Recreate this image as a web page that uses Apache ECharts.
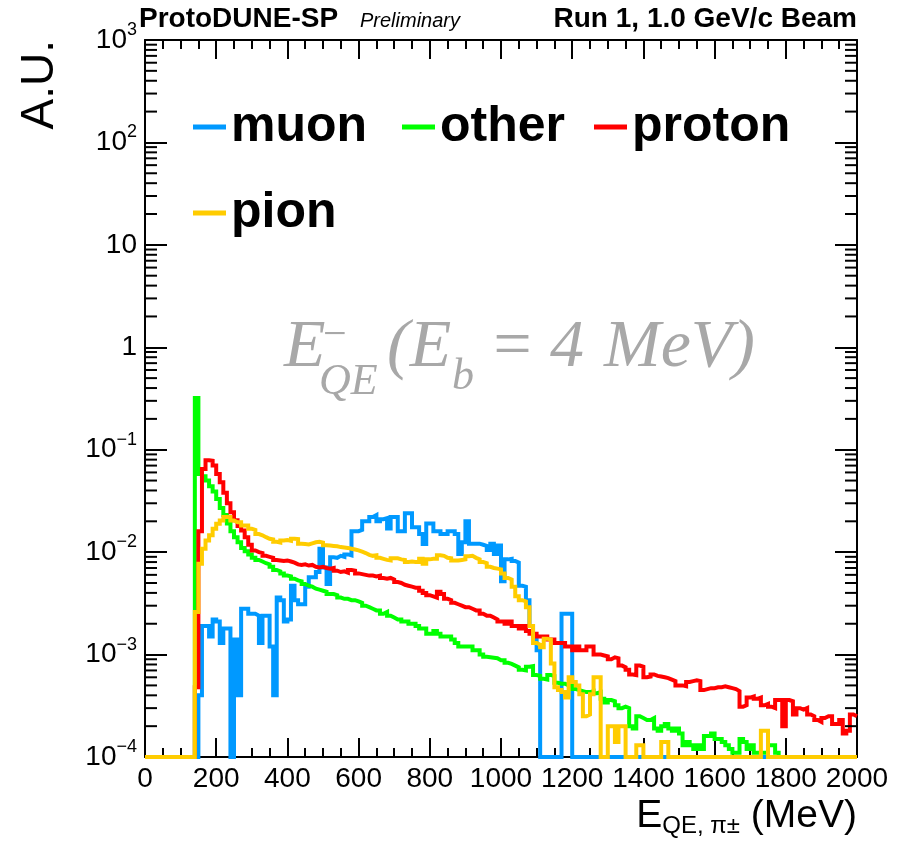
<!DOCTYPE html>
<html>
<head>
<meta charset="utf-8">
<title>ProtoDUNE-SP E_QE</title>
<script src="https://cdn.jsdelivr.net/npm/echarts@6.0.0/dist/echarts.min.js"></script>
<style>
  html, body { margin: 0; padding: 0; background: #fff; }
  #chart { width: 901px; height: 841px; }
</style>
</head>
<body>
<div id="chart"></div>
<script>
/* ---- data: 10 MeV bins from 0 to 2000 MeV ---- */
const BIN_W = 10;
const X_TICKS = [0, 200, 400, 600, 800, 1000, 1200, 1400, 1600, 1800, 2000];
const Y_TICKS = [1e-4, 1e-3, 1e-2, 1e-1, 1, 10, 1e2, 1e3];
const SERIES_NAMES = ['muon', 'other', 'proton', 'pion'];

const muon = [
  0, 0, 0, 0, 0, 0, 0, 0, 0, 0,
  0, 0, 0, 0, 0, 0.0004, 0.0019, 0.0019, 0.0015, 0.0022,
  0.0021, 0.0013, 0.0018, 0.0018, 0, 0.0014, 0.0004, 0.0028, 0.0028, 0.0025,
  0.0025, 0.0024, 0.0013, 0.0024, 0.0024, 0.0012, 0.0004, 0.0036, 0.0034, 0.0021,
  0.0022, 0.0047, 0.0034, 0.0031, 0.0031, 0.0046, 0.0057, 0.0057, 0.0064, 0.0108,
  0.0071, 0.0049, 0.0089, 0.0088, 0.0092, 0.0090, 0.0095, 0.0093, 0.016, 0.016,
  0.0165, 0.020, 0.020, 0.022, 0.023, 0.020, 0.021, 0.0215, 0.017, 0.022,
  0.022, 0.016, 0.016, 0.024, 0.024, 0.0175, 0.0175, 0.015, 0.012, 0.019,
  0.019, 0.016, 0.016, 0.015, 0.015, 0.016, 0.016, 0.015, 0.0096, 0.0125,
  0.020, 0.0121, 0.0121, 0.0121, 0.0118, 0.0115, 0.0105, 0.0121, 0.0096, 0.0116,
  0.0052, 0.0085, 0.0086, 0.0082, 0.0079, 0.0047, 0.0046, 0.0034, 0.0019, 0.0015,
  0.0011, 0, 0, 0, 0, 0, 0, 0.0025, 0.0025, 0.0025,
  0, 0, 0, 0, 0, 0, 0, 0, 0, 0,
  0, 0, 0, 0, 0, 0, 0, 0, 0, 0,
  0, 0, 0, 0, 0, 0, 0, 0, 0, 0,
  0, 0, 0, 0, 0, 0, 0, 0, 0, 0,
  0, 0, 0, 0, 0, 0, 0, 0, 0, 0,
  0, 0, 0, 0, 0, 0, 0, 0, 0, 0,
  0, 0, 0, 0, 0, 0, 0, 0, 0, 0,
  0, 0, 0, 0, 0, 0, 0, 0, 0, 0
];

const other = [
  0, 0, 0, 0, 0, 0, 0, 0, 0, 0,
  0, 0, 0, 0, 0.32, 0.058, 0.055, 0.050, 0.044, 0.039,
  0.033, 0.027, 0.023, 0.019, 0.016, 0.014, 0.0125, 0.011, 0.0102, 0.0095,
  0.0088, 0.0084, 0.0081, 0.0078, 0.0076, 0.0072, 0.0067, 0.0065, 0.0062, 0.0059,
  0.0058, 0.0055, 0.0053, 0.0052, 0.0049, 0.0047, 0.0046, 0.0044, 0.0043, 0.0042,
  0.0041, 0.0039, 0.0039, 0.0038, 0.0036, 0.0035, 0.0035, 0.0034, 0.0034, 0.0033,
  0.0032, 0.0030, 0.0029, 0.0028, 0.0027, 0.0027, 0.0025, 0.0026, 0.0024, 0.0023,
  0.0022, 0.0022, 0.0021, 0.0021, 0.0020, 0.0020, 0.0019, 0.0018, 0.0018, 0.0016,
  0.0016, 0.0017, 0.0016, 0.0015, 0.0015, 0.0015, 0.0014, 0.0013, 0.0012, 0.0012,
  0.0012, 0.0012, 0.0011, 0.0011, 0.0010, 0.00095, 0.00094, 0.00093, 0.00092, 0.00088,
  0.00088, 0.00083, 0.00081, 0.00078, 0.00075, 0.00071, 0.00070, 0.00076, 0.00077, 0.00063,
  0.00062, 0.00058, 0.00057, 0.00063, 0.00062, 0.00053, 0.00052, 0.00052, 0.00050, 0.00051,
  0.00046, 0.00045, 0.00044, 0.00043, 0.00043, 0.00044, 0.00042, 0.00043, 0.00037, 0.00034,
  0.00036, 0.00035, 0.00032, 0.00030, 0.00031, 0.00030, 0.00020, 0.00019, 0.00025, 0.00024,
  0.00023, 0.00023, 0.00024, 0.00019, 0.00018, 0.00020, 0.00021, 0.00019, 0.00018, 0.00019,
  0.00017, 0.00013, 0.00014, 0.00013, 0.00012, 0.00013, 0.00012, 0.00016, 0.00016, 0.00017,
  0.00015, 0.00015, 0.00014, 0.00013, 0.00012, 0.00011, 0.00011, 0.00015, 0.00014, 0.00012,
  0.00013, 0.00011, 0.00011, 0.00011, 0.00011, 0.00013, 0.00013, 0.00011, 0, 0,
  0, 0, 0, 0, 0, 0, 0, 0, 0, 0,
  0, 0, 0, 0, 0, 0, 0, 0, 0, 0
];

const proton = [
  0, 0, 0, 0, 0, 0, 0, 0, 0, 0,
  0, 0, 0, 0, 0.00048, 0.016, 0.065, 0.079, 0.078, 0.070,
  0.058, 0.048, 0.038, 0.030, 0.0245, 0.0205, 0.018, 0.0163, 0.014, 0.0118,
  0.0104, 0.0100, 0.0098, 0.0092, 0.0090, 0.0088, 0.0084, 0.0083, 0.0082, 0.0083,
  0.0081, 0.0079, 0.0076, 0.0075, 0.0076, 0.0074, 0.0075, 0.0072, 0.0071, 0.0072,
  0.0070, 0.0069, 0.0070, 0.0066, 0.0064, 0.0065, 0.0063, 0.0067, 0.0066, 0.0062,
  0.0061, 0.0060, 0.0059, 0.0059, 0.0058, 0.0059, 0.0056, 0.0055, 0.0056, 0.0054,
  0.0051, 0.0050, 0.0048, 0.0047, 0.0046, 0.0045, 0.0045, 0.0042, 0.0040, 0.0038,
  0.0037, 0.0036, 0.0041, 0.0039, 0.0035, 0.0034, 0.0032, 0.0031, 0.0030, 0.0029,
  0.0029, 0.0028, 0.0027, 0.0027, 0.0025, 0.0024, 0.0024, 0.0023, 0.0022, 0.0021,
  0.0021, 0.0020, 0.0021, 0.0019, 0.0019, 0.0018, 0.0019, 0.0017, 0.0016, 0.0016,
  0.0015, 0.0015, 0.0015, 0.0014, 0.0014, 0.0013, 0.0013, 0.0013, 0.0012, 0.0012,
  0.0011, 0.0012, 0.0011, 0.0011, 0.0012, 0.0012, 0.0010, 0.0010, 0.00098, 0.00096,
  0.00090, 0.00094, 0.00092, 0.00078, 0.00075, 0.00071, 0.00064, 0.00063, 0.00078, 0.00076,
  0.00060, 0.00061, 0.00064, 0.00062, 0.00061, 0.00060, 0.00059, 0.00057, 0.00055, 0.00050,
  0.00050, 0.00049, 0.00054, 0.00055, 0.00056, 0.00055, 0.00045, 0.00046, 0.00047, 0.00047,
  0.00048, 0.00048, 0.00049, 0.00048, 0.00047, 0.00046, 0.00044, 0.00031, 0.00032, 0.00038,
  0.00039, 0.00037, 0.00038, 0.00032, 0.00033, 0.00031, 0.00030, 0.00036, 0.00036, 0.00020,
  0.00036, 0.00035, 0.00026, 0.00030, 0.00029, 0.00030, 0.00026, 0.00025, 0.00023, 0.00022,
  0.00024, 0.00025, 0.00025, 0.00021, 0.00021, 0.00023, 0.00017, 0.00018, 0.00026, 0.00025
];

const pion = [
  0, 0, 0, 0, 0, 0, 0, 0, 0, 0,
  0, 0, 0, 0, 0.0026, 0.0077, 0.0108, 0.013, 0.0146, 0.0169,
  0.0189, 0.0204, 0.022, 0.022, 0.0204, 0.0196, 0.0196, 0.0182, 0.0182, 0.0169,
  0.0165, 0.0150, 0.0146, 0.0140, 0.0135, 0.0133, 0.0126, 0.0124, 0.0130, 0.0131,
  0.0129, 0.0135, 0.0134, 0.0121, 0.0120, 0.0119, 0.0122, 0.0125, 0.0126, 0.0124,
  0.0117, 0.0116, 0.0115, 0.0114, 0.0112, 0.0111, 0.0110, 0.0108, 0.0106, 0.0104,
  0.0101, 0.0098, 0.0094, 0.0092, 0.0093, 0.0088, 0.0086, 0.0084, 0.0083, 0.0087,
  0.0087, 0.0085, 0.0084, 0.0080, 0.0081, 0.0080, 0.0080, 0.0086, 0.0077, 0.0085,
  0.0086, 0.0086, 0.0093, 0.0092, 0.0088, 0.0087, 0.0083, 0.0083, 0.0084, 0.0085,
  0.0091, 0.0092, 0.0088, 0.0085, 0.0080, 0.0078, 0.0072, 0.0070, 0.0069, 0.0068,
  0.0062, 0.0056, 0.0054, 0.0046, 0.0037, 0.0034, 0.0033, 0.0029, 0.0019, 0.0013,
  0.00125, 0.00118, 0.00143, 0.00140, 0.00082, 0.00048, 0.00045, 0.00043, 0.00038, 0.0006,
  0.00054, 0.00050, 0.00041, 0.00025, 0.00026, 0.00041, 0.0006, 0.0006, 0, 0,
  0.0002, 0.0002, 0.00014, 0.0002, 0.0002, 0, 0, 0, 0.00013, 0.00013,
  0, 0, 0, 0, 0, 0.00014, 0.00014, 0, 0, 0,
  0, 0, 0, 0, 0, 0, 0, 0, 0, 0,
  0, 0, 0, 0, 0, 0, 0, 0, 0, 0,
  0, 0, 0, 0.00018, 0.00018, 0, 0, 0, 0, 0,
  0, 0, 0, 0, 0, 0, 0, 0, 0, 0,
  0, 0, 0, 0, 0, 0, 0, 0, 0, 0
];

/* ---- look ---- */
const X_MIN = 0, X_MAX = 2000;
const Y_MIN = 1e-4, Y_MAX = 1e3;
const COLORS = { muon: '#0099ff', other: '#00ff00', proton: '#ff0000', pion: '#ffcc00' };
const SANS = '"Liberation Sans", Arial, sans-serif';
const SERIF = '"Liberation Serif", "Times New Roman", serif';
const GREY = '#a8a8a8';

// minor log ticks (2..9 x each decade), drawn through the y scale
const minorY = [];
for (let e = -4; e < 3; e++) {
  for (let m = 2; m <= 9; m++) minorY.push(m * Math.pow(10, e));
}

// empty bins sit on the frame, like ROOT does on a log axis
function toSteps(vals) {
  const pts = vals.map((v, i) => [i * BIN_W, Math.max(v, Y_MIN)]);
  pts.push([vals.length * BIN_W, Math.max(vals[vals.length - 1], Y_MIN)]);
  return pts;
}

function hist(name, vals) {
  return {
    name, type: 'line', step: 'end',
    data: toSteps(vals),
    symbol: 'none', showSymbol: false, clip: false,
    lineStyle: { color: COLORS[name], width: 4, join: 'miter', cap: 'butt' },
    itemStyle: { color: COLORS[name] },
    z: 3,
  };
}

function yLabel(v) {
  const e = Math.round(Math.log10(v));
  if (e === 0) return '1';
  if (e === 1) return '10';
  return '{b|10}{s|' + (e < 0 ? '\u2212' + (-e) : e) + '}';
}

const axisBlack = { color: '#000', width: 2 };

function xAxis(pos, labels) {
  return {
    type: 'value', position: pos, min: X_MIN, max: X_MAX, interval: 200,
    axisLine: { show: true, onZero: false, lineStyle: axisBlack },
    axisTick: { show: true, inside: true, length: 19, lineStyle: axisBlack },
    minorTick: { show: true, splitNumber: 4, length: 9, lineStyle: axisBlack },
    splitLine: { show: false },
    axisLabel: labels ? {
      show: true, color: '#000', fontSize: 28, fontFamily: SANS, margin: 8,
      formatter: v => String(v),
    } : { show: false },
  };
}

function yAxis(pos, labels) {
  return {
    type: 'log', logBase: 10, position: pos, min: Y_MIN, max: Y_MAX, splitNumber: 7,
    axisLine: { show: true, onZero: false, lineStyle: axisBlack },
    axisTick: { show: true, inside: true, length: 22, lineStyle: axisBlack },
    splitLine: { show: false },
    axisLabel: labels ? {
      show: true, color: '#000', margin: 8, formatter: yLabel,
      fontSize: 28, fontFamily: SANS,
      rich: {
        b: { fontSize: 28, fontFamily: SANS, color: '#000', lineHeight: 38 },
        s: { fontSize: 18, fontFamily: SANS, color: '#000', lineHeight: 20, verticalAlign: 'top' },
      },
    } : { show: false },
  };
}

function legendAt(name, left, top) {
  return {
    data: [name], left, top, padding: 0, orient: 'horizontal', selectedMode: false,
    icon: 'rect', itemWidth: 33, itemHeight: 5, itemGap: 0,
    textStyle: { fontSize: 50, fontWeight: 'bold', fontFamily: SANS, color: '#000' },
  };
}

function txt(text, x, y, font, fill, align, extra) {
  return Object.assign({
    type: 'text', x, y, silent: true,
    style: { text, font, fill, align, verticalAlign: 'middle', textAlign: align, textVerticalAlign: 'middle' },
  }, extra || {});
}

const chart = echarts.init(document.getElementById('chart'), null, { renderer: 'canvas' });

chart.setOption({
  animation: false,
  backgroundColor: '#fff',
  textStyle: { fontFamily: SANS },
  grid: { left: 145, right: 44, top: 40, bottom: 84, containLabel: false },
  xAxis: [xAxis('bottom', true), xAxis('top', false)],
  yAxis: [yAxis('left', true), yAxis('right', false)],
  legend: [
    legendAt('muon', 193, 102),
    legendAt('other', 402, 102),
    legendAt('proton', 594, 102),
    legendAt('pion', 193, 188),
  ],
  series: [
    hist('muon', muon),
    hist('other', other),
    hist('proton', proton),
    hist('pion', pion),
    {
      // minor ticks of the log axis on both frame sides
      type: 'custom', silent: true, z: 4,
      data: minorY.map(v => [X_MIN, v]),
      renderItem(params, api) {
        const l = api.coord([X_MIN, api.value(1)]);
        const r = api.coord([X_MAX, api.value(1)]);
        const st = { stroke: '#000', lineWidth: 2 };
        return {
          type: 'group', children: [
            { type: 'line', shape: { x1: l[0], y1: l[1], x2: l[0] + 12, y2: l[1] }, style: st },
            { type: 'line', shape: { x1: r[0], y1: r[1], x2: r[0] - 12, y2: r[1] }, style: st },
          ],
        };
      },
    },
  ],
  graphic: [
    // header
    txt('ProtoDUNE-SP', 139, 19, 'bold 28px ' + SANS, '#000', 'left'),
    txt('Preliminary', 360, 21, 'italic 20px ' + SANS, '#000', 'left'),
    txt('Run 1, 1.0 GeV/c Beam', 857, 19, 'bold 28px ' + SANS, '#000', 'right'),
    // y title
    txt('A.U.', 40, 40, '46px ' + SANS, '#000', 'right', { rotation: Math.PI / 2 }),
    // x title
    {
      type: 'text', x: 857, y: 816, silent: true,
      style: {
        text: '{m|E}{s|QE, \u03c0\u00b1}{m| (MeV)}',
        align: 'right', verticalAlign: 'middle', textAlign: 'right', textVerticalAlign: 'middle',
        rich: {
          m: { fontSize: 39, fontFamily: SANS, color: '#000', lineHeight: 44 },
          s: { fontSize: 24, fontFamily: SANS, color: '#000', lineHeight: 16, verticalAlign: 'bottom' },
        },
      },
    },
    // grey annotation E_QE^-(E_b = 4 MeV)
    txt('E', 284, 348, 'italic 68px ' + SERIF, GREY, 'left'),
    txt('\u2212', 323, 336, '42px ' + SERIF, GREY, 'left'),
    txt('QE', 319, 382, 'italic 44px ' + SERIF, GREY, 'left'),
    txt('(E', 387, 348, 'italic 68px ' + SERIF, GREY, 'left'),
    txt('b', 452, 377, 'italic 44px ' + SERIF, GREY, 'left'),
    txt('=', 489, 348, 'italic 68px ' + SERIF, GREY, 'left'),
    txt('4', 550, 348, 'italic 68px ' + SERIF, GREY, 'left'),
    txt('MeV)', 604, 348, 'italic 68px ' + SERIF, GREY, 'left'),
  ],
});
</script>
</body>
</html>
